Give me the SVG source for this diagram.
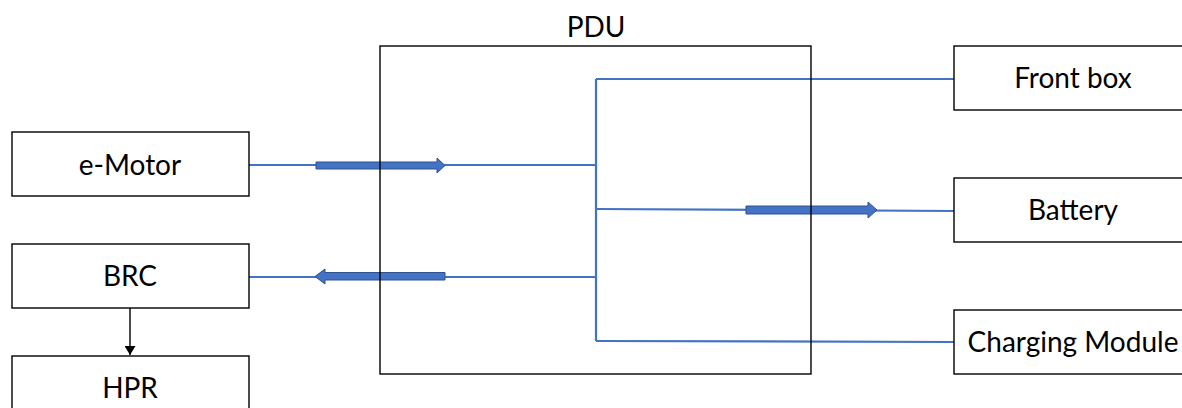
<svg xmlns="http://www.w3.org/2000/svg" width="1182" height="408" viewBox="0 0 1182 408">
<style>
.box{fill:#fff;stroke:#000;stroke-width:1.4}
.pdu{fill:none;stroke:#000;stroke-width:1.4}
.lbl{font-family:Lato,"Open Sans",sans-serif;font-size:28px;fill:#000;text-anchor:middle}
.wire{stroke:#4472C4;stroke-width:2.2;fill:none}
.fat{fill:#4472C4;stroke:#2F528F;stroke-width:1}
</style>
<defs>
<marker id="ah" viewBox="0 0 10 10" refX="10" refY="5" markerWidth="9" markerHeight="11" markerUnits="userSpaceOnUse" orient="auto" preserveAspectRatio="none"><path d="M0,0 L10,5 L0,10 z" fill="#000"/></marker>
</defs>
<rect width="1182" height="408" fill="#fff"/>
<g id="connectors">
<line class="wire" x1="249" y1="165" x2="596" y2="165"/>
<line class="wire" x1="249" y1="277" x2="596" y2="277"/>
<line class="wire" x1="596" y1="79" x2="596" y2="341"/>
<line class="wire" x1="596" y1="79" x2="954" y2="79"/>
<line class="wire" x1="596" y1="209" x2="954" y2="211"/>
<line class="wire" x1="596" y1="341" x2="954" y2="342"/>
<path class="fat" d="M316,162 L437,162 L437,158 L445,165.5 L437,173 L437,169 L316,169 z"/>
<path class="fat" d="M445,272.5 L325,272.5 L325,269 L315,276.5 L325,284 L325,280 L445,280 z"/>
<path class="fat" d="M746,206 L868,206 L868,202 L877,210 L868,218 L868,214 L746,214 z"/>
<line x1="130" y1="308" x2="130" y2="355" stroke="#000" stroke-width="1.4" marker-end="url(#ah)"/>
</g>
<g id="pdu">
<rect class="pdu" x="380" y="46" width="431" height="328"/>
<text class="lbl" x="596" y="37">PDU</text>
</g>
<g id="e-motor">
<rect class="box" x="12" y="132" width="237" height="64"/>
<text class="lbl" x="130" y="175">e-Motor</text>
</g>
<g id="brc">
<rect class="box" x="12" y="244" width="237" height="64"/>
<text class="lbl" x="130" y="286">BRC</text>
</g>
<g id="hpr">
<rect class="box" x="12" y="356" width="237" height="64"/>
<text class="lbl" x="130" y="398">HPR</text>
</g>
<g id="front-box">
<rect class="box" x="954" y="46" width="240" height="64"/>
<text class="lbl" x="1073" y="88">Front box</text>
</g>
<g id="battery">
<rect class="box" x="954" y="178" width="240" height="64"/>
<text class="lbl" x="1073" y="220">Battery</text>
</g>
<g id="charging-module">
<rect class="box" x="954" y="310" width="240" height="64"/>
<text class="lbl" x="1073" y="352">Charging Module</text>
</g>
</svg>
